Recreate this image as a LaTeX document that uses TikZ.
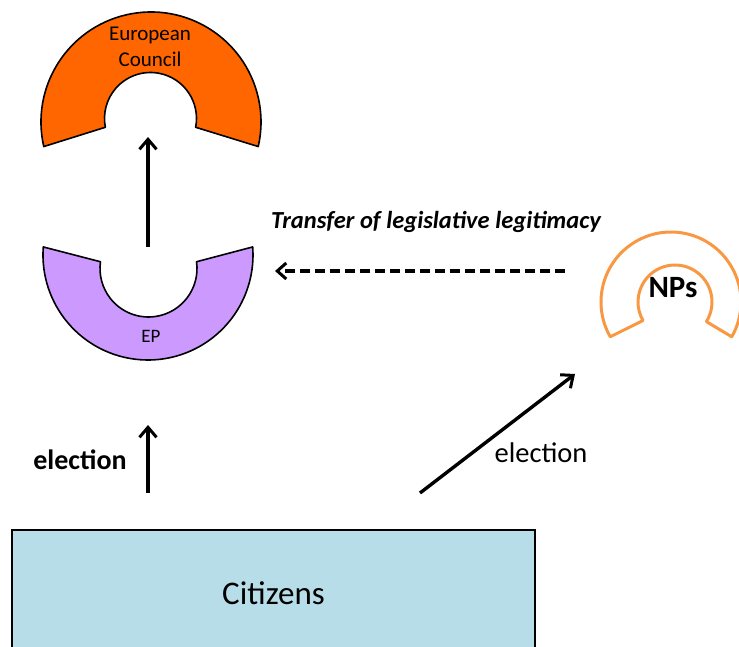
\documentclass[tikz,border=0pt]{standalone}
\usepackage{fontspec}
\setmainfont{Carlito}
\usetikzlibrary{arrows.meta}
\definecolor{ecorange}{RGB}{255,102,0}
\definecolor{eplilac}{RGB}{204,153,255}
\definecolor{nporange}{RGB}{248,152,66}
\definecolor{citblue}{RGB}{183,221,232}
\tikzset{
  arcshape/.style={draw=black, line width=1.6pt, line join=round},
  arr/.style={line width=3.4pt, -{Straight Barb[length=10pt, width=17pt, line width=3pt]}},
  dasharr/.style={line width=3.4pt, dash pattern=on 10pt off 5pt, -{Straight Barb[length=9pt, width=16pt, line width=3pt]}},
  lbl/.style={inner sep=0pt, anchor=base},
}
\begin{document}
\begin{tikzpicture}[x=1pt,y=1pt]
\useasboundingbox (0,0) rectangle (739,646);
\clip (0,0) rectangle (739,646);
% European Council shape
\draw[arcshape, fill=ecorange] (151,524) ++(192.9:110) arc[start angle=192.9, end angle=-12.9, radius=110]
  -- ([shift={(-11:46)}]150.5,527.5) arc[start angle=-11, end angle=191, radius=46] -- cycle;
\node[lbl, align=center, font=\fontsize{21}{26}\selectfont] (ec) at (150,579) {European\\Council};
% EP shape
\draw[arcshape, fill=eplilac] (148,391) ++(175.6:105) arc[start angle=175.6, end angle=364.4, radius=105]
  -- ([shift={(8:48.5)}]148.5,377.5) arc[start angle=368, end angle=172, radius=48.5] -- cycle;
\node[lbl, font=\fontsize{19}{22}\selectfont] (ep) at (151,303) {EP};
% NPs shape
\draw[draw=nporange, line width=3pt, line join=round] (671,344) ++(209.8:70) arc[start angle=209.8, end angle=-29.8, radius=70]
  -- ([shift={(-32:37)}]675,344) arc[start angle=-32, end angle=210, radius=37] -- cycle;
\node[lbl, font=\bfseries\fontsize{31}{36}\selectfont] (np) at (673,348) {NPs};
% Citizens
\node[draw=black, line width=1.6pt, fill=citblue, minimum width=523, minimum height=126, inner sep=0pt,
  font=\fontsize{33}{38}\selectfont] (cit) at (273.5,53) {Citizens};
% labels
\node[lbl, font=\bfseries\fontsize{28}{32}\selectfont] (el1) at (80,177) {election};
\node[lbl, font=\fontsize{28.5}{32}\selectfont] (el2) at (541,184) {election};
\node[lbl, font=\bfseries\itshape\fontsize{24.5}{28}\selectfont] (tr) at (436,417) {Transfer of legislative legitimacy};
% arrow coordinates
\coordinate (a1s) at (148,399);
\coordinate (a1e) at (148,509);
\coordinate (a2s) at (148,153);
\coordinate (a2e) at (148,221);
\coordinate (a3s) at (420,153);
\coordinate (a3e) at (575,272);
\coordinate (a4s) at (565,375);
\coordinate (a4e) at (275,375);
\draw[arr] (a1s) -- (a1e);
\draw[arr] (a2s) -- (a2e);
\draw[arr] (a3s) -- (a3e);
\draw[dasharr] (a4s) -- (a4e);
\end{tikzpicture}
\end{document}
